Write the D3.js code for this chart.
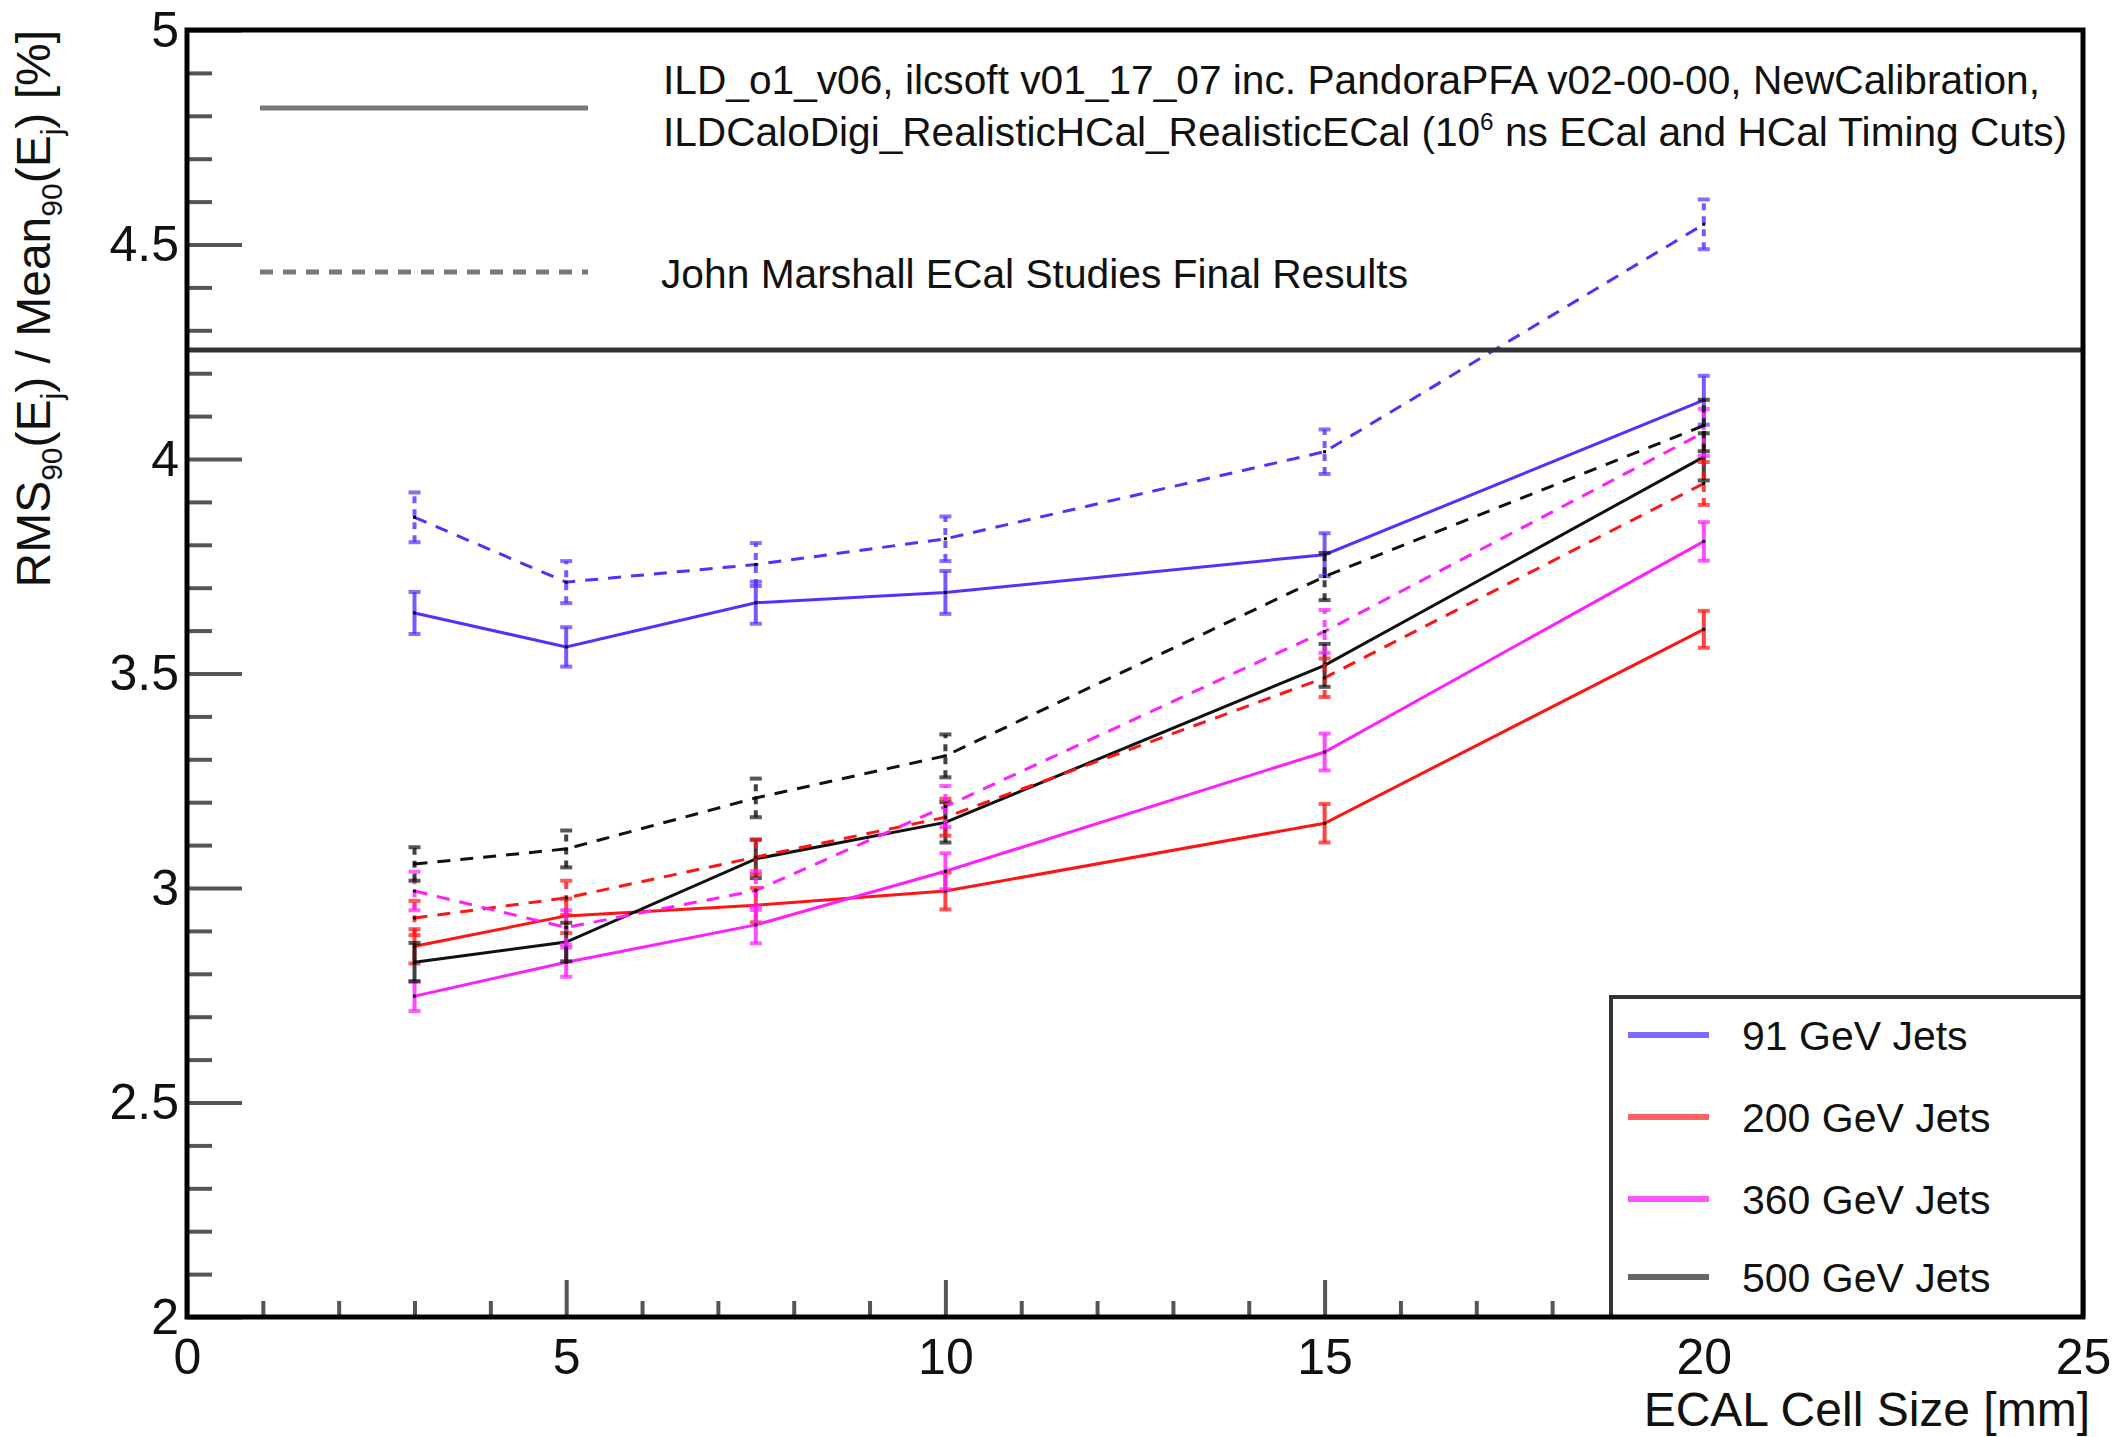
<!DOCTYPE html>
<html>
<head>
<meta charset="utf-8">
<script src="https://cdn.jsdelivr.net/npm/d3@7"></script>
<style>
  body { margin: 0; background: #fff; }
  text { font-family: "Liberation Sans", Arial, sans-serif; fill: #111; }
</style>
</head>
<body>
<svg id="chart" width="2120" height="1437"></svg>
<script>
'use strict';

// ---- data ----
var cellSize = [3, 5, 7.5, 10, 15, 20];
var jetLabels = ['91 GeV Jets', '200 GeV Jets', '360 GeV Jets', '500 GeV Jets'];

// new calibration (solid)
var new91  = [3.641, 3.562, 3.665, 3.689, 3.777, 4.137];
var new200 = [2.864, 2.935, 2.960, 2.993, 3.151, 3.603];
var new360 = [2.748, 2.827, 2.914, 3.039, 3.317, 3.808];
var new500 = [2.827, 2.874, 3.068, 3.153, 3.519, 4.005];
var newErr91  = [0.049, 0.046, 0.049, 0.050, 0.050, 0.057];
var newErr200 = [0.040, 0.040, 0.040, 0.043, 0.045, 0.043];
var newErr360 = [0.035, 0.034, 0.043, 0.042, 0.043, 0.045];
var newErr500 = [0.045, 0.045, 0.045, 0.047, 0.050, 0.055];

// John Marshall results (dashed)
var jm91  = [3.864, 3.713, 3.754, 3.814, 4.017, 4.547];
var jm200 = [2.930, 2.977, 3.072, 3.165, 3.490, 3.943];
var jm360 = [2.993, 2.908, 2.994, 3.190, 3.598, 4.062];
var jm500 = [3.056, 3.091, 3.210, 3.308, 3.726, 4.078];
var jmErr91  = [0.058, 0.049, 0.050, 0.052, 0.052, 0.058];
var jmErr200 = [0.040, 0.040, 0.040, 0.043, 0.045, 0.050];
var jmErr360 = [0.045, 0.040, 0.045, 0.048, 0.050, 0.055];
var jmErr500 = [0.039, 0.043, 0.045, 0.050, 0.055, 0.060];

var yMajor = [2, 2.5, 3, 3.5, 4, 4.5, 5];
var xMajor = [0, 5, 10, 15, 20, 25];

var lineColors = ['#5a2dff', '#ff1414', '#ff1eff', '#111111'];
var legendColors = ['#7b6cff', '#ff6262', '#ff55ff', '#666666'];

// ---- layout ----
var frameL = 187, frameR = 2083, frameT = 30, frameB = 1317;

var x = d3.scaleLinear().domain([0, 25]).range([frameL, frameR]);
var y = d3.scaleLinear().domain([2, 5]).range([frameB, frameT]);

var svg = d3.select('#chart');

// minor + major ticks
var yMinor = d3.range(20, 51).map(d => d / 10).filter(d => yMajor.indexOf(d) < 0);
var xMinor = d3.range(0, 26).filter(d => xMajor.indexOf(d) < 0);

function styleAxis(g) {
  g.select('.domain').remove();
  g.selectAll('.tick line').attr('stroke', '#555').attr('stroke-width', 4);
  g.selectAll('.tick text')
    .attr('font-family', '"Liberation Sans", Arial, sans-serif')
    .attr('font-size', 50)
    .attr('fill', '#111');
}

svg.append('g')
  .attr('transform', 'translate(' + frameL + ',0)')
  .call(d3.axisLeft(y).tickValues(yMinor).tickSize(-25).tickFormat(''))
  .call(styleAxis);
svg.append('g')
  .attr('transform', 'translate(' + frameL + ',0)')
  .call(d3.axisLeft(y).tickValues(yMajor).tickSize(-55).tickPadding(8).tickFormat(d3.format('')))
  .call(styleAxis);

svg.append('g')
  .attr('transform', 'translate(0,' + frameB + ')')
  .call(d3.axisBottom(x).tickValues(xMinor).tickSize(-16).tickFormat(''))
  .call(styleAxis);
svg.append('g')
  .attr('transform', 'translate(0,' + frameB + ')')
  .call(d3.axisBottom(x).tickValues(xMajor).tickSize(-37).tickPadding(21).tickFormat(d3.format('')))
  .call(styleAxis);

// ---- series ----
var series = [
  { vals: new91, errs: newErr91, c: 0, dash: null },
  { vals: new200, errs: newErr200, c: 1, dash: null },
  { vals: new360, errs: newErr360, c: 2, dash: null },
  { vals: new500, errs: newErr500, c: 3, dash: null },
  { vals: jm91, errs: jmErr91, c: 0, dash: '13,10' },
  { vals: jm200, errs: jmErr200, c: 1, dash: '13,10' },
  { vals: jm360, errs: jmErr360, c: 2, dash: '13,10' },
  { vals: jm500, errs: jmErr500, c: 3, dash: '13,10' }
];

var line = d3.line()
  .x((d, i) => x(cellSize[i]))
  .y(d => y(d));

series.forEach(s => {
  var g = svg.append('g');
  var col = lineColors[s.c];
  var pts = s.vals.map((v, i) => ({ x: cellSize[i], v: v, e: s.errs[i] }));

  g.append('path')
    .attr('d', line(s.vals))
    .attr('fill', 'none')
    .attr('stroke', col)
    .attr('stroke-width', 3)
    .attr('stroke-dasharray', s.dash);

  g.selectAll('line.err')
    .data(pts)
    .enter()
    .append('line')
    .attr('class', 'err')
    .attr('x1', d => x(d.x)).attr('x2', d => x(d.x))
    .attr('y1', d => y(d.v - d.e)).attr('y2', d => y(d.v + d.e))
    .attr('stroke', col)
    .attr('stroke-opacity', 0.8)
    .attr('stroke-width', 4)
    .attr('stroke-dasharray', s.dash ? '7,6' : null);

  [-1, 1].forEach(sign => {
    g.selectAll('rect.cap' + (sign > 0 ? 'Hi' : 'Lo'))
      .data(pts)
      .enter()
      .append('rect')
      .attr('class', 'cap' + (sign > 0 ? 'Hi' : 'Lo'))
      .attr('x', d => x(d.x) - 6)
      .attr('y', d => y(d.v + sign * d.e) - 2)
      .attr('width', 12)
      .attr('height', 4)
      .attr('fill', col)
      .attr('fill-opacity', 0.7);
  });

  g.selectAll('rect.mk')
    .data(pts)
    .enter()
    .append('rect')
    .attr('class', 'mk')
    .attr('x', d => x(d.x) - 1.5)
    .attr('y', d => y(d.v) - 1.5)
    .attr('width', 3)
    .attr('height', 3)
    .attr('fill', '#000');
});

// ---- upper legend (transparent) ----
var topLegendBottom = 350;
svg.append('line')
  .attr('x1', frameL).attr('x2', frameR)
  .attr('y1', topLegendBottom).attr('y2', topLegendBottom)
  .attr('stroke', '#333').attr('stroke-width', 5);

svg.append('line')
  .attr('x1', 260).attr('x2', 588).attr('y1', 108).attr('y2', 108)
  .attr('stroke', '#777').attr('stroke-width', 5);
svg.append('line')
  .attr('x1', 260).attr('x2', 588).attr('y1', 272).attr('y2', 272)
  .attr('stroke', '#777').attr('stroke-width', 5)
  .attr('stroke-dasharray', '13,10');

svg.append('text')
  .attr('x', 663).attr('y', 94)
  .attr('font-size', 40)
  .attr('textLength', 1377).attr('lengthAdjust', 'spacingAndGlyphs')
  .text('ILD_o1_v06, ilcsoft v01_17_07 inc. PandoraPFA v02-00-00, NewCalibration,');

var t2 = svg.append('text')
  .attr('x', 663).attr('y', 146)
  .attr('font-size', 40)
  .attr('textLength', 1404).attr('lengthAdjust', 'spacingAndGlyphs');
t2.append('tspan').text('ILDCaloDigi_RealisticHCal_RealisticECal (10');
t2.append('tspan').attr('dy', -16).attr('font-size', 24).text('6');
t2.append('tspan').attr('dy', 16).text(' ns ECal and HCal Timing Cuts)');

svg.append('text')
  .attr('x', 661).attr('y', 288)
  .attr('font-size', 40)
  .attr('textLength', 747).attr('lengthAdjust', 'spacingAndGlyphs')
  .text('John Marshall ECal Studies Final Results');

// ---- lower legend (filled white) ----
var legY = [1035, 1117, 1199, 1277];
svg.append('rect')
  .attr('x', 1611).attr('y', 997)
  .attr('width', frameR - 1611).attr('height', frameB - 997)
  .attr('fill', '#fff')
  .attr('stroke', '#333').attr('stroke-width', 4);

var leg = svg.selectAll('g.leg')
  .data(jetLabels)
  .enter()
  .append('g')
  .attr('class', 'leg');
leg.append('line')
  .attr('x1', 1628).attr('x2', 1709)
  .attr('y1', (d, i) => legY[i]).attr('y2', (d, i) => legY[i])
  .attr('stroke', (d, i) => legendColors[i])
  .attr('stroke-width', 6);
leg.append('text')
  .attr('x', 1742)
  .attr('y', (d, i) => legY[i] + 15)
  .attr('font-size', 41)
  .text(d => d);

// ---- frame ----
svg.append('rect')
  .attr('x', frameL).attr('y', frameT)
  .attr('width', frameR - frameL).attr('height', frameB - frameT)
  .attr('fill', 'none')
  .attr('stroke', '#000').attr('stroke-width', 5);

// ---- axis titles ----
svg.append('text')
  .attr('x', 2090).attr('y', 1426)
  .attr('text-anchor', 'end')
  .attr('font-size', 48)
  .text('ECAL Cell Size [mm]');

var yt = svg.append('text')
  .attr('transform', 'translate(50,' + frameT + ') rotate(-90)')
  .attr('text-anchor', 'end')
  .attr('font-size', 48);
yt.append('tspan').text('RMS');
yt.append('tspan').attr('dy', 12).attr('font-size', 30).text('90');
yt.append('tspan').attr('dy', -12).text('(E');
yt.append('tspan').attr('dy', 12).attr('font-size', 30).text('j');
yt.append('tspan').attr('dy', -12).text(') / Mean');
yt.append('tspan').attr('dy', 12).attr('font-size', 30).text('90');
yt.append('tspan').attr('dy', -12).text('(E');
yt.append('tspan').attr('dy', 12).attr('font-size', 30).text('j');
yt.append('tspan').attr('dy', -12).text(') [%]');
</script>
</body>
</html>
